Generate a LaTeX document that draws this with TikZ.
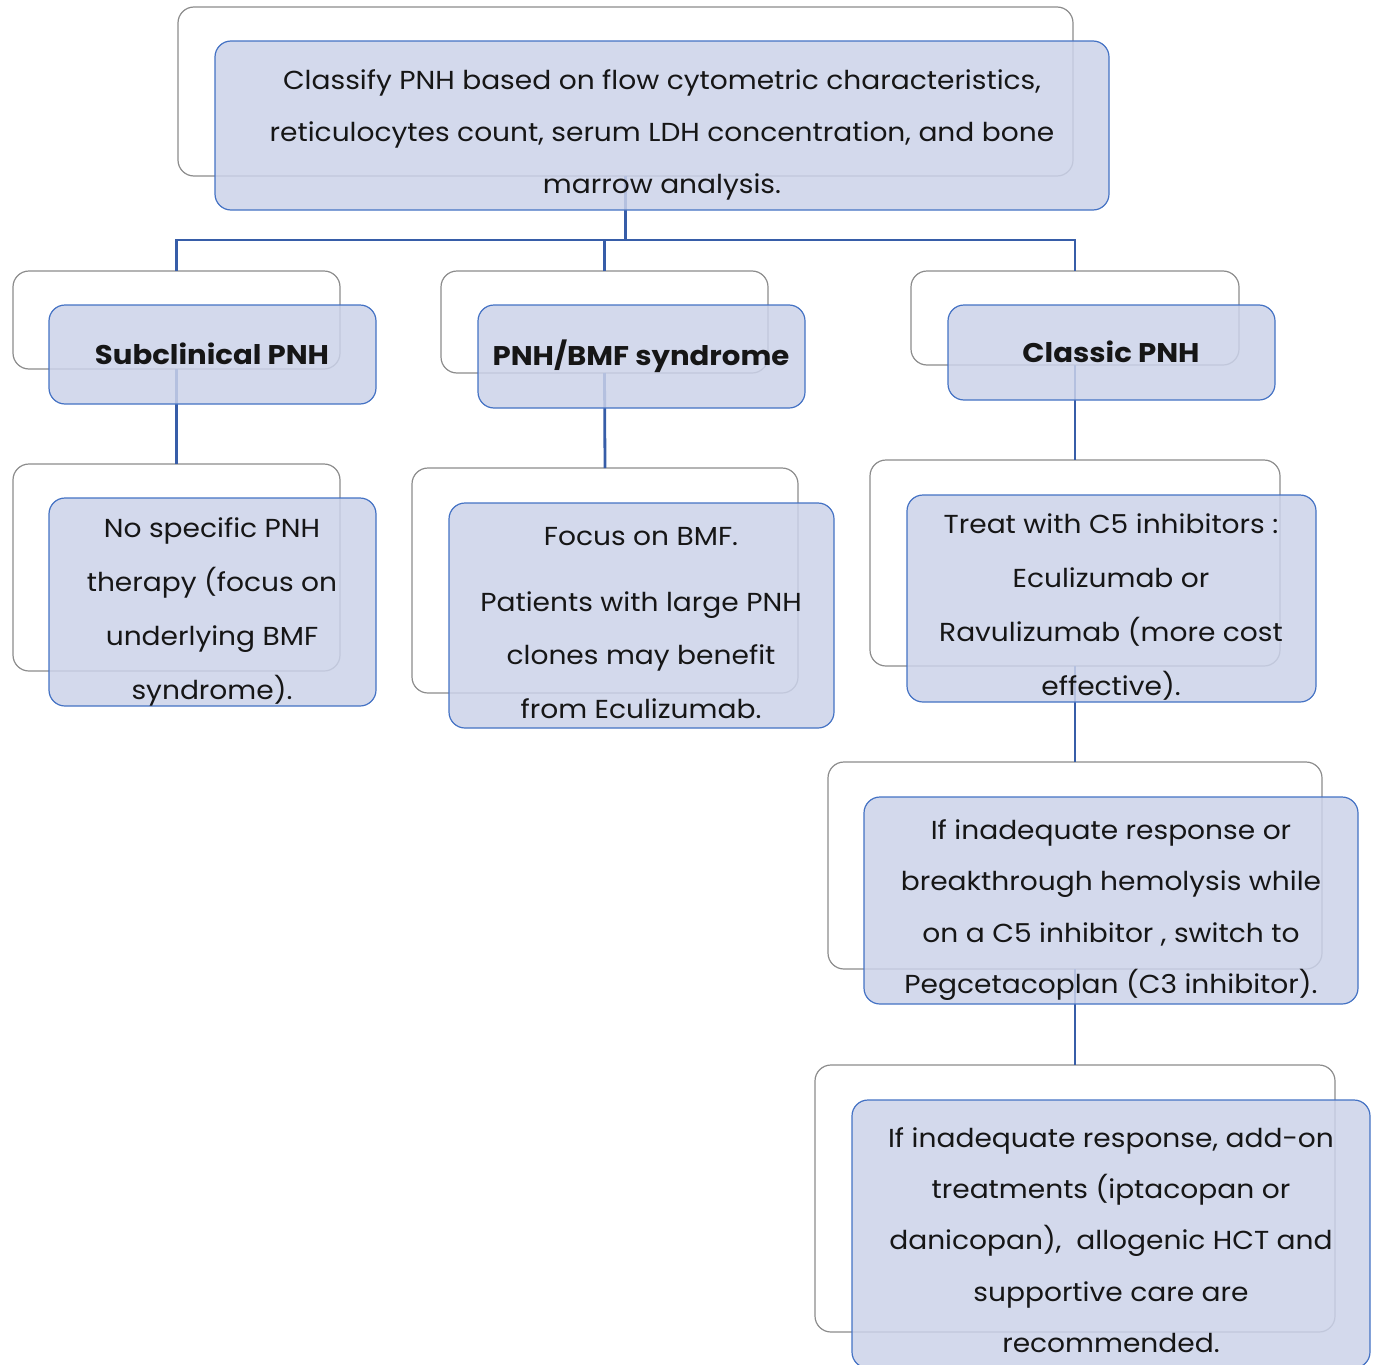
\documentclass[tikz,border=0pt]{standalone}
\usepackage{fontspec}
\setmainfont[FakeStretch=1.08]{Poppins}
\definecolor{grayline}{HTML}{8C8C8C}
\definecolor{blueline}{HTML}{4472C4}
\definecolor{bluefill}{RGB}{203,210,233}
\definecolor{connc}{HTML}{375DA8}
\definecolor{txtc}{HTML}{161616}
\tikzset{
  graybox/.style={draw=grayline, line width=1.2pt, rounded corners=16pt, inner sep=0pt, outer sep=0pt},
  bluebox/.style={draw=blueline, line width=1.2pt, fill=bluefill, fill opacity=0.85, rounded corners=16pt, inner sep=0pt, outer sep=0pt},
  conn/.style={draw=connc, line width=2.8pt},
  txt/.style={text=txtc, align=center, inner sep=0pt, font=\fontsize{26}{52}\selectfont},
  ttl/.style={text=txtc, align=center, inner sep=0pt, font=\fontsize{27}{30}\selectfont\bfseries},
}
\newcommand\gbox[5]{\node[graybox, minimum width={#4-#2}, minimum height={#5-#3}] (#1) at ({(#2+#4)/2},{(#3+#5)/2}) {};}
\newcommand\bbox[5]{\node[bluebox, minimum width={#4-#2}, minimum height={#5-#3}] (#1) at ({(#2+#4)/2},{(#3+#5)/2}) {};}
\begin{document}
\begin{tikzpicture}[x=1pt,y=-1pt]
\useasboundingbox (0,0) rectangle (1377,1365);
% gray outline boxes
\gbox{g0}{178}{7}{1073}{176}
\gbox{g1}{13}{271}{340}{369}
\gbox{g2}{441}{271}{768}{373}
\gbox{g3}{911}{271}{1239}{365}
\gbox{g4}{13}{464}{340}{671}
\gbox{g5}{412}{468}{798}{693}
\gbox{g6}{870}{460}{1280}{666}
\gbox{g7}{828}{762}{1322}{969}
\gbox{g8}{815}{1065}{1335}{1332}
% connectors
\coordinate (bar) at (0,240);
\draw[conn] (g0.south) -- (g0.south |- bar);
\draw[conn] (g1.north) -- (g1.north |- bar) -- (g3.north |- bar) -- (g3.north);
\draw[conn] (g2.north) -- (g2.north |- bar);
\draw[conn] (g1.south) -- (g4.north);
\draw[conn] (g2.south) -- (g5.north);
\draw[conn] (g3.south) -- (g6.north);
\draw[conn] (g6.south) -- (g7.north);
\draw[conn] (g7.south) -- (g8.north);
% blue boxes
\bbox{b0}{215}{41}{1109}{210}
\bbox{b1}{49}{305}{376}{404}
\bbox{b2}{478}{305}{805}{408}
\bbox{b3}{948}{305}{1275}{400}
\bbox{b4}{49}{498}{376}{706}
\bbox{b5}{449}{503}{834}{728}
\bbox{b6}{907}{495}{1316}{702}
\bbox{b7}{864}{797}{1358}{1004}
\bbox{b8}{852}{1100}{1370}{1368}
% texts
\node[txt] (t0) at (662,135) {Classify PNH based on flow cytometric characteristics,\\reticulocytes count, serum LDH concentration, and bone\\marrow analysis.};
\node[ttl] (t1) at (212,354) {Subclinical PNH};
\node[ttl] (t2) at (641,356) {PNH/BMF syndrome};
\node[ttl] (t3) at (1111,352) {Classic PNH};
\node[txt, font=\fontsize{26}{54}\selectfont] (t4) at (212,612) {No specific PNH\\therapy (focus on\\underlying BMF\\syndrome).};
\node[txt, font=\fontsize{26}{53.5}\selectfont] (t5) at (641,623) {Focus on BMF.\\[12pt]Patients with large PNH\\clones may benefit\\from Eculizumab.};
\node[txt, font=\fontsize{26}{54}\selectfont] (t6) at (1111,607) {Treat with C5 inhibitors :\\Eculizumab or\\Ravulizumab (more cost\\effective).};
\node[txt, font=\fontsize{26}{51.3}\selectfont] (t7) at (1111,910) {If inadequate response or\\breakthrough hemolysis while\\on a C5 inhibitor , switch to\\Pegcetacoplan (C3 inhibitor).};
\node[txt, font=\fontsize{26}{51.25}\selectfont] (t8) at (1111,1240) {If inadequate response, add-on\\treatments (iptacopan or\\danicopan),~ allogenic HCT and\\supportive care are\\recommended.};
\end{tikzpicture}
\end{document}
